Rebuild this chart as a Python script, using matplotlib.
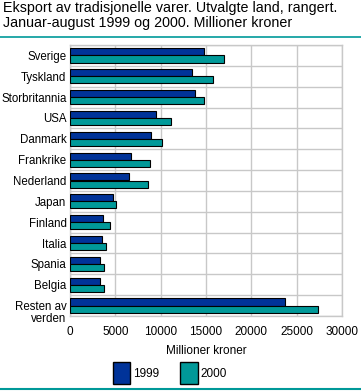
import numpy as np
from matplotlib import pyplot as plt
from matplotlib.patches import Patch
from matplotlib.lines import Line2D
import matplotlib.transforms as mtrans

plt.rcParams['font.family'] = ['Liberation Sans', 'DejaVu Sans']

land = ['Sverige', 'Tyskland', 'Storbritannia', 'USA', 'Danmark', 'Frankrike',
        'Nederland', 'Japan', 'Finland', 'Italia', 'Spania', 'Belgia',
        'Resten av\nverden']
v1999 = [14750, 13460, 13800, 9490, 8940, 6730, 6510, 4750, 3640, 3530, 3310, 3310, 23730]
v2000 = [17000, 15740, 14750, 11150, 10150, 8830, 8610, 5080, 4415, 3970, 3750, 3750, 27370]
xticks = [0, 5000, 10000, 15000, 20000, 25000, 30000]

blaa = '#003399'
teal = '#009999'
grid = '#c8c8c8'

fig = plt.figure(figsize=(3.61, 3.91), dpi=100)
ax = fig.add_axes([70 / 361, 1 - 316 / 391, 272 / 361, 271 / 391])

y = np.arange(len(land))
h = 0.34
ax.barh(y - h / 2, v1999, height=h, color=blaa, edgecolor='black', linewidth=0.8, zorder=3)
ax.barh(y + h / 2, v2000, height=h, color=teal, edgecolor='black', linewidth=0.8, zorder=3)

ax.set_ylim(len(land) - 0.5, -0.5)
ax.set_xlim(0, 30000)
ax.set_yticks(y)
ax.set_yticklabels(land, fontsize=8.3, linespacing=0.95)
ax.set_xticks(xticks)
ax.set_xticklabels([str(t) for t in xticks], fontsize=8.5)
ax.tick_params(axis='y', length=0, pad=2.5)
ax.tick_params(axis='x', length=0, pad=7)
ax.set_yticks(np.arange(len(land) + 1) - 0.5, minor=True)
ax.tick_params(which='minor', length=0)
ax.grid(True, axis='x', color=grid, linewidth=1, zorder=0)
ax.grid(True, axis='y', which='minor', color=grid, linewidth=1, zorder=0)
for s in ax.spines.values():
    s.set_color(grid)
    s.set_linewidth(1)
ax.set_xlabel('Millioner kroner', fontsize=8.5, labelpad=5)

# siste etikett litt lenger ned, som i originalen
lab = ax.get_yticklabels()[-1]
lab.set_transform(lab.get_transform() + mtrans.ScaledTranslation(0, -6 / 100, fig.dpi_scale_trans))

fig.text(0.008, 0.997, 'Eksport av tradisjonelle varer. Utvalgte land, rangert.\n'
         'Januar-august 1999 og 2000. Millioner kroner',
         fontsize=10.3, va='top', ha='left', linespacing=1.05)

fig.add_artist(Line2D([0, 1], [1 - 37 / 391, 1 - 37 / 391], color=teal, linewidth=1.2))
fig.add_artist(Line2D([0, 1], [1 - 389 / 391, 1 - 389 / 391], color=teal, linewidth=1.5))

handles = [Patch(facecolor=blaa, edgecolor='black', label='1999'),
           Patch(facecolor=teal, edgecolor='black', label='2000')]
fig.legend(handles=handles, loc='center', bbox_to_anchor=(0.47, 1 - 373 / 391), ncol=2,
           frameon=False, fontsize=8.5, handlelength=1.5, handleheight=2.4,
           handletextpad=0.2, columnspacing=1.8)

fig.savefig('out.png', dpi=100)
